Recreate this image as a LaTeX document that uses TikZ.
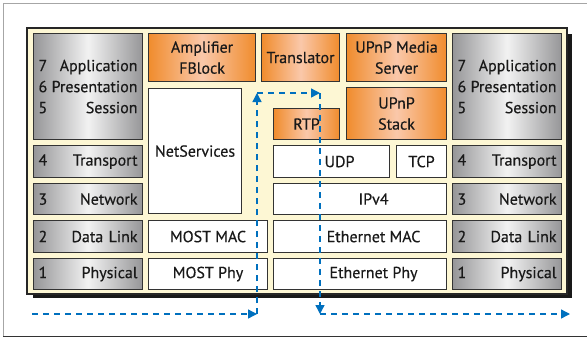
\documentclass[tikz,border=0pt]{standalone}
\usepackage{fontspec}
\setmainfont{PT Sans}[FakeBold=0.35]
\usetikzlibrary{arrows.meta}
\definecolor{layer_gray}{RGB}{150,150,152}
\definecolor{layer_light}{RGB}{242,242,242}
\definecolor{fb_orange}{RGB}{240,140,45}
\definecolor{fb_peach}{RGB}{250,200,170}
\definecolor{stack_yellow}{RGB}{244,222,50}
\definecolor{stack_cream}{RGB}{253,247,212}
\definecolor{flow_blue}{RGB}{0,112,190}
\pgfdeclarehorizontalshading{stackyellow}{100bp}{color(0bp)=(stack_yellow); color(20bp)=(stack_cream); color(80bp)=(stack_cream); color(100bp)=(stack_yellow)}
\tikzset{
  osilayer/.style={draw=black!80, line width=1.1pt, left color=layer_gray, right color=layer_gray, middle color=layer_light, anchor=north west, inner sep=5pt, minimum width=109pt, text width=99pt, align=left, text=black!90},
  fblock/.style={draw=black!80, line width=1.1pt, left color=fb_orange, right color=fb_orange, middle color=fb_peach, anchor=north west, inner sep=0pt, align=center, text=black!90},
  protobox/.style={draw=black!80, line width=1.1pt, fill=white, anchor=north west, inner sep=0pt, text=black!90},
  flow/.style={draw=flow_blue, line width=1.4pt, dash pattern=on 6pt off 5pt, -{Triangle[length=9pt,width=9pt]}}
}
\begin{document}
\begin{tikzpicture}[x=1pt, y=-1pt, font=\fontsize{16}{21}\selectfont]
\useasboundingbox (0,0) rectangle (587,338);
% frame
\draw[gray!70, line width=1pt] (587,3) -- (3,3) -- (3,336);
\draw[black!80, line width=1pt] (3,336) -- (587,336);
% stack background with shadow
\fill[black!90] (33,34) rectangle (572,298);
\shadedraw[shading=stackyellow, draw=black!85, line width=1.5pt] (27,28) rectangle (567,294);

% OSI layers left
\node[osilayer, minimum height=106pt] (upperL) at (33,33) {7\hfill Application\\6\hfill Presentation\\5\hfill Session};
\node[osilayer, minimum height=32pt] (transL) at (33,145) {4\hfill Transport};
\node[osilayer, minimum height=31pt] (netL) at (33,183) {3\hfill Network};
\node[osilayer, minimum height=32pt] (linkL) at (33,220) {2\hfill Data Link};
\node[osilayer, minimum height=31pt] (phyL) at (33,258) {1\hfill Physical};
% OSI layers right
\node[osilayer, minimum height=106pt] (upperR) at (452,33) {7\hfill Application\\6\hfill Presentation\\5\hfill Session};
\node[osilayer, minimum height=32pt] (transR) at (452,145) {4\hfill Transport};
\node[osilayer, minimum height=31pt] (netR) at (452,183) {3\hfill Network};
\node[osilayer, minimum height=32pt] (linkR) at (452,220) {2\hfill Data Link};
\node[osilayer, minimum height=31pt] (phyR) at (452,258) {1\hfill Physical};

% function blocks
\node[fblock, minimum width=107pt, minimum height=48pt] (amp) at (148,33) {Amplifier\\FBlock};
\node[fblock, minimum width=78pt, minimum height=48pt] (transl) at (261,33) {Translator};
\node[fblock, minimum width=100pt, minimum height=48pt] (media) at (346,33) {UPnP Media\\Server};
\node[fblock, minimum width=100pt, minimum height=52pt] (upnp) at (346,87) {UPnP\\Stack};
\node[fblock, minimum width=66pt, minimum height=31pt] (rtp) at (273,108) {RTP};

% MOST side
\node[protobox, minimum width=93pt, minimum height=125pt] (netsvc) at (148,88) {NetServices};
\node[protobox, minimum width=119pt, minimum height=32pt] (mostmac) at (148,220) {MOST MAC};
\node[protobox, minimum width=119pt, minimum height=31pt] (mostphy) at (148,258) {MOST Phy};
% IP side
\node[protobox, minimum width=116pt, minimum height=32pt] (udp) at (273,145) {\hspace*{16pt}UDP};
\node[protobox, minimum width=50pt, minimum height=32pt] (tcp) at (396,145) {TCP};
\node[protobox, minimum width=173pt, minimum height=31pt] (ipv4) at (273,183) {\hspace*{27pt}IPv4};
\node[protobox, minimum width=173pt, minimum height=32pt] (ethmac) at (273,220) {\hspace*{27pt}Ethernet MAC};
\node[protobox, minimum width=173pt, minimum height=31pt] (ethphy) at (273,258) {\hspace*{27pt}Ethernet Phy};

% data path
\coordinate (mostin) at (32,314);
\coordinate (mostup) at (257,314);
\coordinate (netsvctop) at (257,93);
\coordinate (rtptop) at (320,93);
\coordinate (ethdown) at (320,314);
\coordinate (ethout) at (570,314);
\draw[flow] (mostin) -- (mostup);
\draw[flow] (mostup) -- (netsvctop);
\draw[flow] (netsvctop) -- (rtptop);
\draw[flow] (rtptop) -- (ethdown);
\draw[flow] (ethdown) -- (ethout);
\end{tikzpicture}
\end{document}
